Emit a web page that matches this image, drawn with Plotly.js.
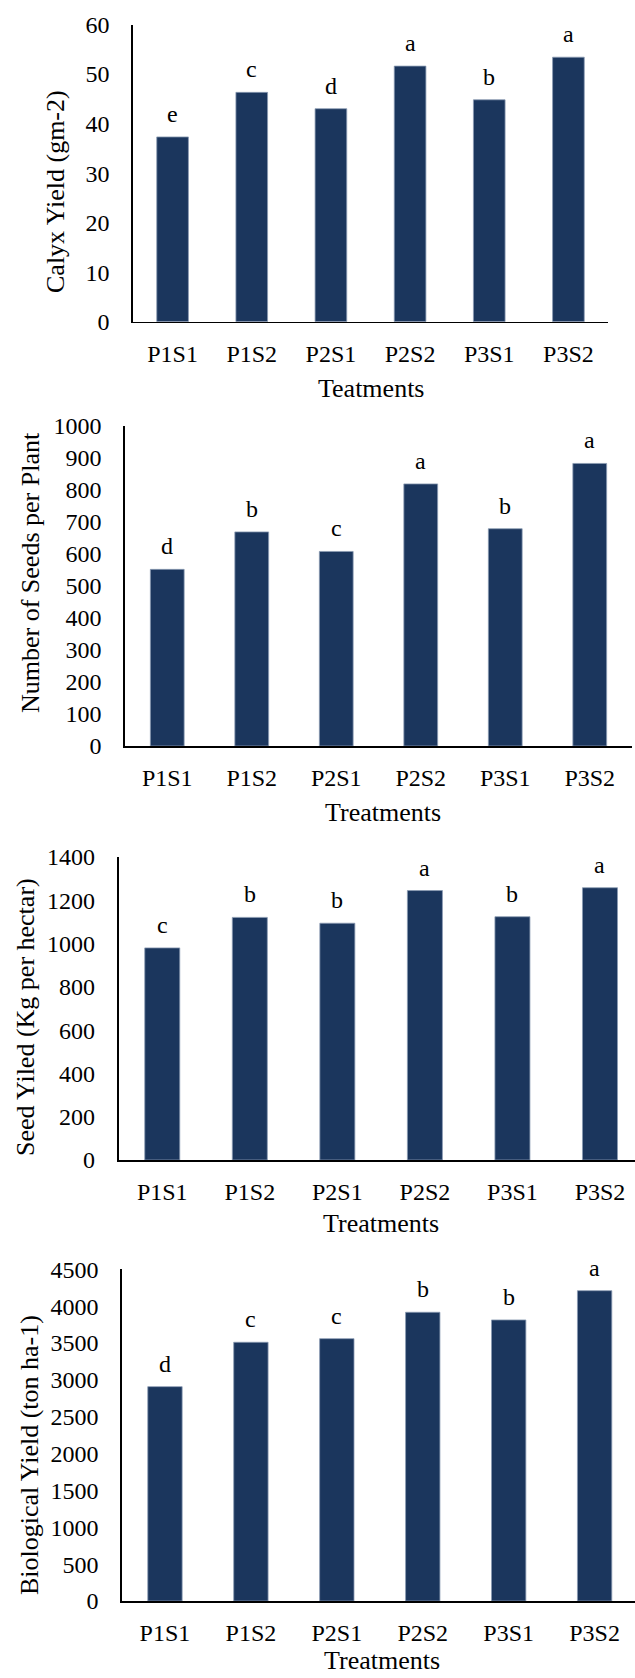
<!DOCTYPE html>
<html>
<head>
<meta charset="utf-8">
<script src="https://cdn.plot.ly/plotly-3.0.1.min.js"></script>
<style>html,body{margin:0;padding:0;background:#fff;}#chart{width:635px;height:1678px;}</style>
</head>
<body>
<div id="chart"></div>
<script>
// ---- data ----
const treatments = ["P1S1", "P1S2", "P2S1", "P2S2", "P3S1", "P3S2"];

const calyxYield = [37.3, 46.3, 43.0, 51.6, 44.8, 53.4];
const calyxLetters = ["e", "c", "d", "a", "b", "a"];

const seedsPerPlant = [552, 669, 608, 819, 679, 883];
const seedsLetters = ["d", "b", "c", "a", "b", "a"];

const seedYield = [980, 1121, 1094, 1245, 1124, 1258];
const seedYieldLetters = ["c", "b", "b", "a", "b", "a"];

const bioYield = [2908, 3510, 3559, 3917, 3813, 4210];
const bioLetters = ["d", "c", "c", "b", "b", "a"];

const yTitles = ["Calyx Yield (gm-2)", "Number of Seeds per Plant", "Seed Yiled (Kg per hectar)", "Biological Yield (ton ha-1)"];
const xTitles = ["Teatments", "Treatments", "Treatments", "Treatments"];
const yMax = [60, 1000, 1400, 4500];
const yStep = [10, 100, 200, 500];

// ---- layout helpers ----
const W = 635, H = 1678;
const FONT = "Liberation Serif, Times New Roman, serif";
const BAR = "#1b365d";

const panels = [
  {vals: calyxYield, letters: calyxLetters, x0: 133, x1: 608, yt: 24.5, yb: 321.7, xr: 5.5, shift: 23,
   ytx: 55, yty: 192, xtx: 371, xty: 388},
  {vals: seedsPerPlant, letters: seedsLetters, x0: 125, x1: 632, yt: 426, yb: 746, xr: 5.5, shift: 23,
   ytx: 30, yty: 573, xtx: 383, xty: 812},
  {vals: seedYield, letters: seedYieldLetters, x0: 118.5, x1: 635, yt: 857, yb: 1160, xr: 5.40, shift: 23,
   ytx: 25, yty: 1017, xtx: 381, xty: 1223},
  {vals: bioYield, letters: bioLetters, x0: 122, x1: 635, yt: 1269.3, yb: 1601, xr: 5.47, shift: 23,
   ytx: 29, yty: 1455, xtx: 382, xty: 1660}
];

const data = [];
const layout = {
  width: W, height: H,
  margin: {l: 0, r: 0, t: 0, b: 0, pad: 0},
  paper_bgcolor: "#ffffff", plot_bgcolor: "#ffffff",
  showlegend: false,
  bargap: 0.6,
  font: {family: FONT, color: "#000000", size: 23},
  annotations: []
};

panels.forEach((p, i) => {
  const n = i === 0 ? "" : String(i + 1);
  const xa = "x" + n, ya = "y" + n;
  data.push({
    type: "bar", x: treatments, y: p.vals, xaxis: xa, yaxis: ya,
    marker: {color: BAR, line: {color: "#8a9bb3", width: 0.8}},
    hoverinfo: "skip"
  });
  layout["xaxis" + n] = {
    domain: [p.x0 / W, p.x1 / W], anchor: ya, type: "category",
    range: [-0.5, p.xr], showline: true, linecolor: "#000000", linewidth: 1.6,
    showgrid: false, zeroline: false, ticks: "", ticklabelstandoff: 10,
    tickfont: {family: FONT, size: 24, color: "#000000"}, fixedrange: true
  };
  layout["yaxis" + n] = {
    domain: [1 - p.yb / H, 1 - p.yt / H], anchor: xa,
    range: [0, yMax[i]], dtick: yStep[i], tick0: 0,
    showline: true, linecolor: "#000000", linewidth: 1.6,
    showgrid: false, zeroline: false, ticks: "", ticklabelstandoff: 17,
    tickfont: {family: FONT, size: 24, color: "#000000"}, fixedrange: true
  };
  p.letters.forEach((L, k) => {
    layout.annotations.push({
      x: treatments[k], y: p.vals[k], xref: xa, yref: ya, text: L,
      showarrow: false, yanchor: "middle", yshift: p.shift,
      font: {family: FONT, size: 24, color: "#000000"}
    });
  });
  layout.annotations.push({
    x: p.ytx / W, y: 1 - p.yty / H, xref: "paper", yref: "paper",
    text: yTitles[i], textangle: -90, showarrow: false,
    xanchor: "center", yanchor: "middle",
    font: {family: FONT, size: 26, color: "#000000"}
  });
  layout.annotations.push({
    x: p.xtx / W, y: 1 - p.xty / H, xref: "paper", yref: "paper",
    text: xTitles[i], showarrow: false,
    xanchor: "center", yanchor: "middle",
    font: {family: FONT, size: 26, color: "#000000"}
  });
});

Plotly.newPlot("chart", data, layout, {displayModeBar: false, staticPlot: true});
</script>
</body>
</html>
